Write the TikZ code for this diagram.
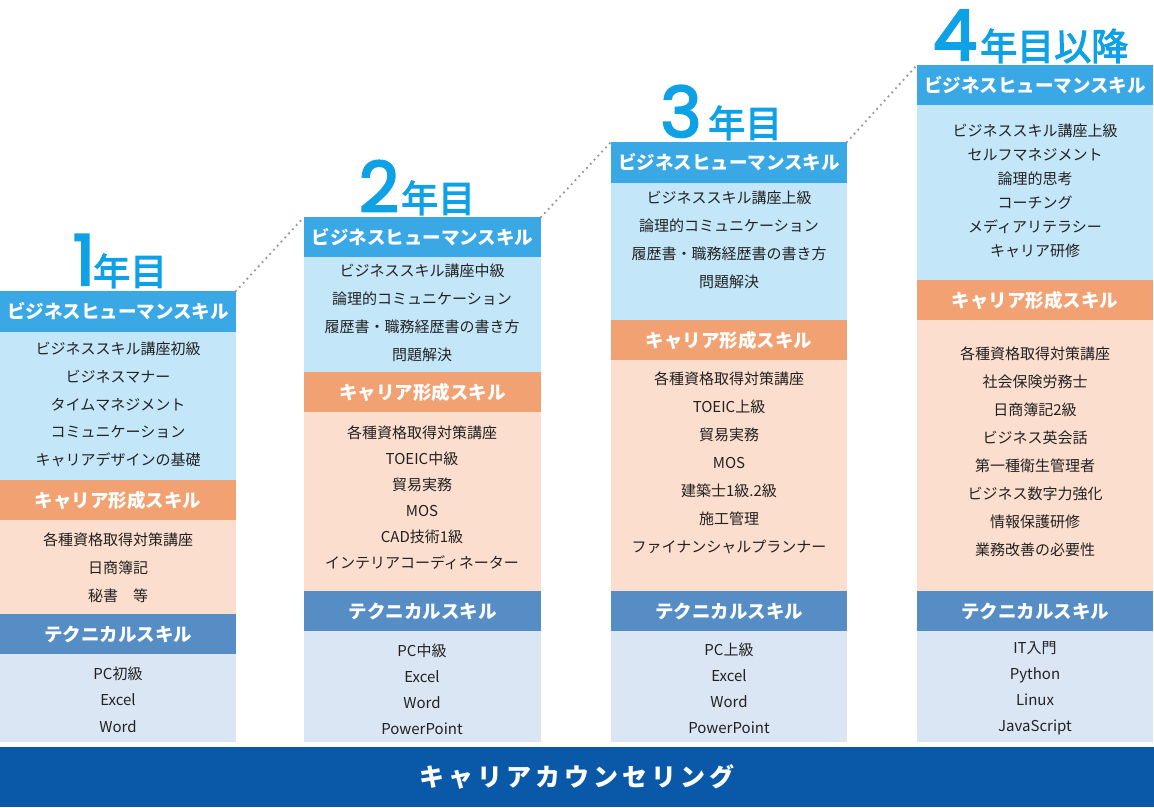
\documentclass[tikz,border=0pt]{standalone}
\usepackage{fontspec}
\setmainfont{Noto Sans CJK JP}
\newfontfamily\barfont{Noto Sans CJK JP}[LetterSpace=16]
\newfontfamily\digitfont{Poppins}[FakeBold=3]
\newfontfamily\yrfont{Noto Sans CJK JP}[FakeBold=3]
\definecolor{hblue}{HTML}{3BA8E6}
\definecolor{lblue}{HTML}{C3E6F8}
\definecolor{horange}{HTML}{F2A272}
\definecolor{lpeach}{HTML}{FBDECD}
\definecolor{htech}{HTML}{568DC5}
\definecolor{ltech}{HTML}{DAE6F3}
\definecolor{barblue}{HTML}{0A58A8}
\definecolor{ttlblue}{HTML}{0EA1E6}
\definecolor{dotgray}{HTML}{9A9A9A}
\definecolor{itemtxt}{HTML}{222222}
\begin{document}
\begin{tikzpicture}[x=1pt,y=-1pt,
  sec/.style={inner sep=0pt, outer sep=0pt, anchor=north west, minimum width=236pt, text=white, font=\bfseries\fontsize{18.5}{20}\selectfont},
  hb/.style={sec, fill=hblue},
  ob/.style={sec, fill=horange},
  tb/.style={sec, fill=htech},
  lb/.style={sec, fill=lblue},
  pb/.style={sec, fill=lpeach},
  gb/.style={sec, fill=ltech},
  items/.style={align=center, inner sep=0pt, text=itemtxt, font=\fontsize{15}{#1}\selectfont},
  digit/.style={inner sep=0pt, text=ttlblue, font=\digitfont\fontsize{70}{70}\selectfont, anchor=base},
  yr/.style={inner sep=0pt, text=ttlblue, font=\yrfont\fontsize{37}{37}\selectfont, anchor=base west},
  dotline/.style={draw=dotgray, line width=2.6pt, line cap=round, dash pattern=on 0pt off 5.6pt}
]
\useasboundingbox (0,0) rectangle (1154,807);

% ---------- Column 1 ----------
\node[hb, minimum height=41pt] (c1h) at (0,291) {ビジネスヒューマンスキル};
\node[lb, minimum height=148pt] (c1b) at (0,332) {};
\node[items=27.75] (c1bt) at (118,404.5) {ビジネススキル講座初級\\ビジネスマナー\\タイムマネジメント\\コミュニケーション\\キャリアデザインの基礎};
\node[ob, minimum height=40pt] (c1o) at (0,480) {キャリア形成スキル};
\node[pb, minimum height=94pt] (c1p) at (0,520) {};
\node[items=28] (c1pt) at (118,568) {各種資格取得対策講座\\日商簿記\\秘書　等};
\node[tb, minimum height=40pt] (c1t) at (0,614) {テクニカルスキル};
\node[gb, minimum height=88pt] (c1g) at (0,654) {};
\node[items=26.5] (c1gt) at (118,699.5) {PC初級\\Excel\\Word};

% ---------- Column 2 ----------
\node[hb, minimum height=40pt, minimum width=237pt] (c2h) at (304,217) {ビジネスヒューマンスキル};
\node[lb, minimum height=115pt, minimum width=237pt] (c2b) at (304,257) {};
\node[items=28] (c2bt) at (422,313) {ビジネススキル講座中級\\論理的コミュニケーション\\履歴書・職務経歴書の書き方\\問題解決};
\node[ob, minimum height=40pt, minimum width=237pt] (c2o) at (304,372) {キャリア形成スキル};
\node[pb, minimum height=179pt, minimum width=237pt] (c2p) at (304,412) {};
\node[items=26] (c2pt) at (422,498) {各種資格取得対策講座\\TOEIC中級\\貿易実務\\MOS\\CAD技術1級\\インテリアコーディネーター};
\node[tb, minimum height=40pt, minimum width=237pt] (c2t) at (304,591) {テクニカルスキル};
\node[gb, minimum height=111pt, minimum width=237pt] (c2g) at (304,631) {};
\node[items=26] (c2gt) at (422,689) {PC中級\\Excel\\Word\\PowerPoint};

% ---------- Column 3 ----------
\node[hb, minimum height=41pt] (c3h) at (611,142) {ビジネスヒューマンスキル};
\node[lb, minimum height=137pt] (c3b) at (611,183) {};
\node[items=28] (c3bt) at (729,240) {ビジネススキル講座上級\\論理的コミュニケーション\\履歴書・職務経歴書の書き方\\問題解決};
\node[ob, minimum height=40pt] (c3o) at (611,320) {キャリア形成スキル};
\node[pb, minimum height=231pt] (c3p) at (611,360) {};
\node[items=28] (c3pt) at (729,463) {各種資格取得対策講座\\TOEIC上級\\貿易実務\\MOS\\建築士1級.2級\\施工管理\\ファイナンシャルプランナー};
\node[tb, minimum height=40pt] (c3t) at (611,591) {テクニカルスキル};
\node[gb, minimum height=111pt] (c3g) at (611,631) {};
\node[items=26] (c3gt) at (729,688) {PC上級\\Excel\\Word\\PowerPoint};

% ---------- Column 4 ----------
\node[hb, minimum height=40pt] (c4h) at (917,65) {ビジネスヒューマンスキル};
\node[lb, minimum height=175pt] (c4b) at (917,105) {};
\node[items=24] (c4bt) at (1035,191) {ビジネススキル講座上級\\セルフマネジメント\\論理的思考\\コーチング\\メディアリテラシー\\キャリア研修};
\node[ob, minimum height=40pt] (c4o) at (917,280) {キャリア形成スキル};
\node[pb, minimum height=271pt] (c4p) at (917,320) {};
\node[items=28] (c4pt) at (1035,452) {各種資格取得対策講座\\社会保険労務士\\日商簿記2級\\ビジネス英会話\\第一種衛生管理者\\ビジネス数字力強化\\情報保護研修\\業務改善の必要性};
\node[tb, minimum height=40pt] (c4t) at (917,591) {テクニカルスキル};
\node[gb, minimum height=111pt] (c4g) at (917,631) {};
\node[items=26] (c4gt) at (1035,688) {IT入門\\Python\\Linux\\JavaScript};

% ---------- Titles ----------
\node[digit] (n1) at (84,285) {1};
\node[yr] (y1) at (93,285) {年目};
\node[digit] (n2) at (379,212) {2};
\node[yr] (y2) at (401,212) {年目};
\node[digit] (n3) at (681,137) {3};
\node[yr] (y3) at (708,137) {年目};
\node[digit] (n4) at (955,60) {4};
\node[yr] (y4) at (980,60) {年目以降};

% ---------- Dotted connectors ----------
\draw[dotline] (c1h.north east) -- (c2h.north west);
\draw[dotline] (c2h.north east) -- (c3h.north west);
\draw[dotline] (c3h.north east) -- (c4h.north west);

% ---------- Bottom bar ----------
\node[inner sep=0pt, outer sep=0pt, anchor=north west, fill=barblue, minimum width=1154pt, minimum height=60pt, text=white, font=\barfont\bfseries\fontsize{25}{25}\selectfont] (bar) at (0,747) {キャリアカウンセリング};
\end{tikzpicture}
\end{document}
